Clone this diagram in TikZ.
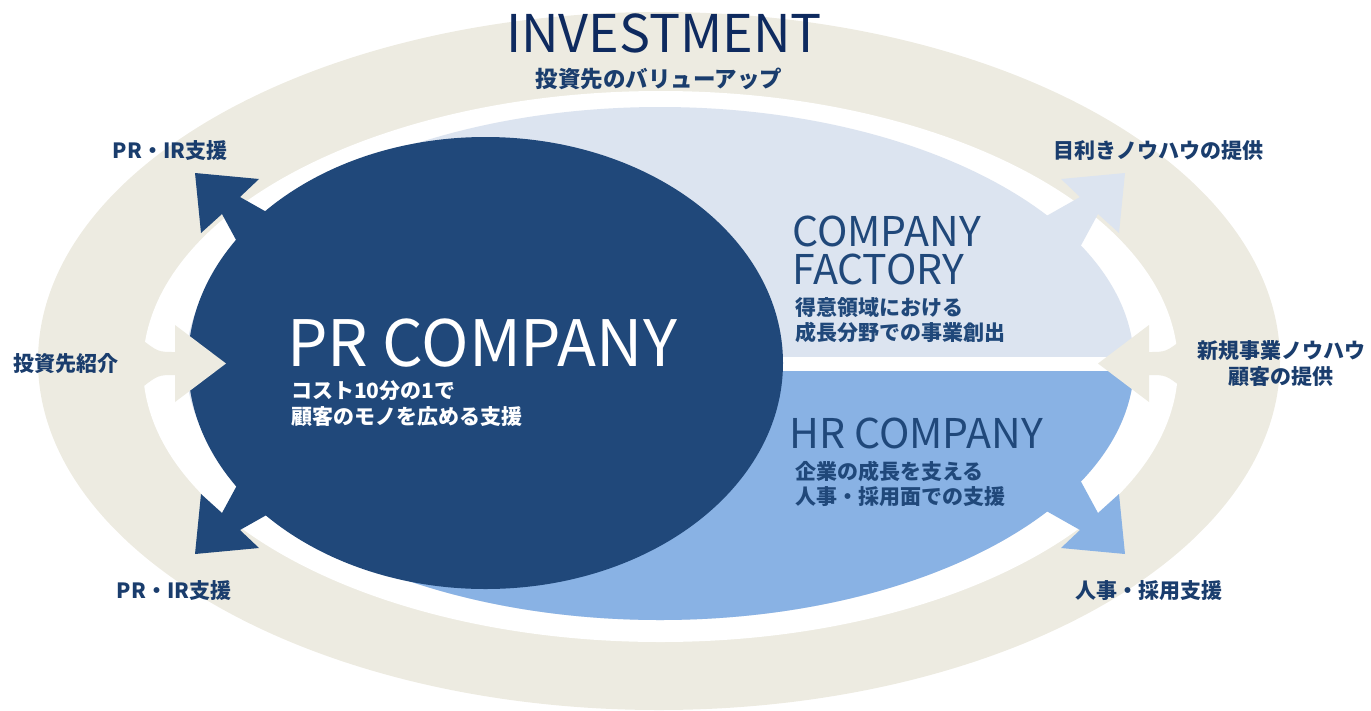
\documentclass[tikz,border=0pt]{standalone}
\usepackage{fontspec}
\setmainfont{Noto Sans CJK JP}
\usepackage{xcolor}
\usepackage{tikz}

\definecolor{beige}{HTML}{EDEBE1}
\definecolor{paleblue}{HTML}{DCE4F0}
\definecolor{midblue}{HTML}{89B2E4}
\definecolor{prblue}{HTML}{20487A}
\definecolor{navy}{HTML}{1A3D6D}
\definecolor{invnavy}{HTML}{0E2A5F}

\begin{document}
\begin{tikzpicture}[
    x=1pt, y=-1pt,
    sidelabel/.style={font=\fontsize{21}{26}\selectfont\bfseries, text=navy, inner sep=0pt, align=center},
    brandtitle/.style={font=\fontsize{41}{38}\selectfont, text=prblue, inner sep=0pt, align=left},
    brandnote/.style={font=\fontsize{21}{25.5}\selectfont\bfseries, text=prblue, inner sep=0pt, align=left, anchor=west}
]
    \useasboundingbox (0,0) rectangle (1371,710);

    % Investment ring
    \fill[beige] (659,361) ellipse [x radius=621pt, y radius=349pt];
    \fill[white] (660.5,366.5) ellipse [x radius=517.5pt, y radius=275.5pt];

    % Company factory / HR company
    \fill[paleblue] (660,363.5) ellipse [x radius=474pt, y radius=256.5pt];
    \begin{scope}
        \clip (660,363.5) ellipse [x radius=474pt, y radius=256.5pt];
        \fill[white] (400,357) rectangle (1200,371);
        \fill[midblue] (400,371) rectangle (1200,650);
    \end{scope}

    % PR company
    \fill[prblue] (485.5,363) ellipse [x radius=297.5pt, y radius=226pt];

    % Arrows out of the PR company
    \fill[prblue] (195,173) -- (259,179) -- (240,197) -- (286,223) -- (248,262) -- (222,214) -- (201,233) -- cycle;
    \fill[prblue] (195,554) -- (259,548) -- (240,530) -- (286,504) -- (248,465) -- (222,513) -- (201,494) -- cycle;

    % Arrows out of company factory and HR company
    \fill[paleblue] (1125,173) -- (1061,179) -- (1080,197) -- (1034,223) -- (1072,262) -- (1098,214) -- (1119,233) -- cycle;
    \fill[midblue] (1125,554) -- (1061,548) -- (1080,530) -- (1034,504) -- (1072,465) -- (1098,513) -- (1119,494) -- cycle;

    % Arrows from the investment ring
    \fill[beige] (226,363.5) -- (175,325) -- (175,352) .. controls (158,352) .. (140,338) -- (125,338) -- (125,389) -- (140,389) .. controls (158,375) .. (175,375) -- (175,402) -- cycle;
    \fill[beige] (1098,363.5) -- (1149,325) -- (1149,352) .. controls (1166,352) .. (1184,338) -- (1199,338) -- (1199,389) -- (1184,389) .. controls (1166,375) .. (1149,375) -- (1149,402) -- cycle;

    % Ring texts
    \node[font=\fontsize{52}{60}\selectfont, text=invnavy, inner sep=0pt, anchor=base] (invest) at (664,52) {INVESTMENT};
    \node[sidelabel, font=\fontsize{22.5}{26}\selectfont\bfseries] (valueup) at (659,79) {投資先のバリューアップ};
    \node[sidelabel] (prtop) at (170,151) {PR・IR支援};
    \node[sidelabel] (prbottom) at (174,591) {PR・IR支援};
    \node[sidelabel] (intro) at (66,364) {投資先紹介};
    \node[sidelabel] (mekiki) at (1158,151) {目利きノウハウの提供};
    \node[sidelabel] (newbiz) at (1281,364) {新規事業ノウハウ\\顧客の提供};
    \node[sidelabel] (hrsupport) at (1149,591) {人事・採用支援};

    % Inner texts
    \node[brandtitle, font=\fontsize{64}{70}\selectfont, text=white, anchor=base west] (prname) at (287,366) {PR COMPANY};
    \node[brandnote, text=white] (prnote) at (291,403.5) {コスト10分の1で\\顧客のモノを広める支援};
    \node[brandtitle, anchor=west] (cfname) at (792,250) {COMPANY\\FACTORY};
    \node[brandnote] (cfnote) at (795,320) {得意領域における\\成長分野での事業創出};
    \node[brandtitle, anchor=base west] (hrname) at (789,448) {HR COMPANY};
    \node[brandnote] (hrnote) at (795,484) {企業の成長を支える\\人事・採用面での支援};
\end{tikzpicture}
\end{document}
